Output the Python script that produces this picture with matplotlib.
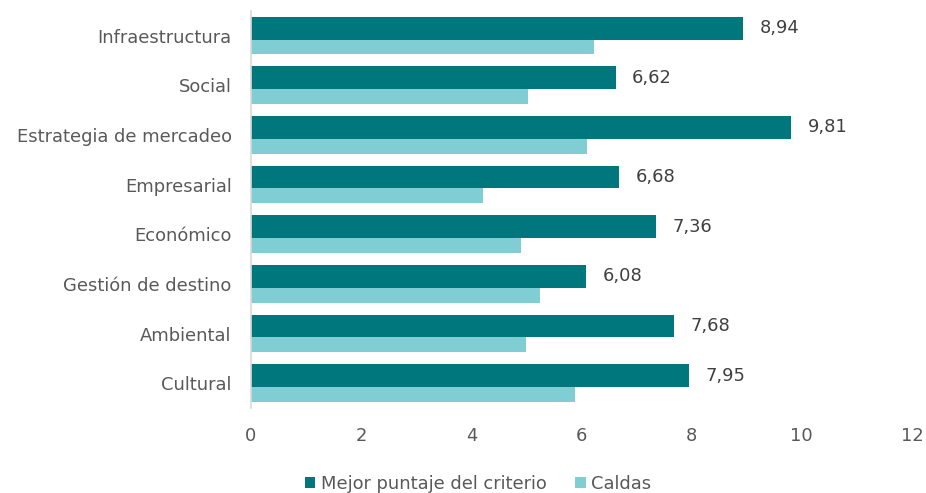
import matplotlib.pyplot as plt
import numpy as np

categories = ["Infraestructura", "Social", "Estrategia de mercadeo", "Empresarial",
              "Económico", "Gestión de destino", "Ambiental", "Cultural"]
mejor = [8.94, 6.62, 9.81, 6.68, 7.36, 6.08, 7.68, 7.95]
caldas = [6.23, 5.02, 6.10, 4.22, 4.90, 5.25, 4.99, 5.88]
series_names = ["Mejor puntaje del criterio", "Caldas"]
xticks = [0, 2, 4, 6, 8, 10, 12]

dark = "#00777D"
light = "#80CED4"
txt = "#595959"
fs = 12.9

plt.rcParams['font.family'] = ['DejaVu Sans']

fig = plt.figure(figsize=(9.26, 4.93), dpi=100)
ax = fig.add_axes([251/926, 1 - 408/493, (912-251)/926, (408-11)/493])

y = np.arange(len(categories))
h_dark = 0.458
h_light = 0.30
top = y - 0.383

b1 = ax.barh(top, mejor, height=h_dark, align='edge', color=dark,
             label=series_names[0])
b2 = ax.barh(top + h_dark, caldas, height=h_light, align='edge', color=light,
             label=series_names[1])

for yi, v in zip(top, mejor):
    ax.text(v + 0.3, yi + h_dark / 2, f"{v:.2f}".replace(".", ","),
            va='center', ha='left', fontsize=fs, color="#404040")

ax.set_xlim(0, 12)
ax.set_ylim(len(categories) - 0.5, -0.5)
ax.set_xticks(xticks)
ax.set_xticklabels([str(t) for t in xticks])
ax.set_yticks(y)
ax.set_yticklabels(categories)
ax.tick_params(axis='both', length=0, labelsize=fs, colors=txt)
ax.tick_params(axis='x', pad=14)
ax.tick_params(axis='y', pad=14)

for s in ['top', 'right', 'bottom']:
    ax.spines[s].set_visible(False)
ax.spines['left'].set_color("#D9D9D9")
ax.spines['left'].set_linewidth(1.2)

leg = fig.legend(handles=[b1, b2], loc='center', bbox_to_anchor=(478/926, 1 - 484/493),
                 ncol=2, frameon=False, fontsize=fs, handlelength=0.6, handleheight=0.6,
                 handletextpad=0.3, columnspacing=1.6)
for t in leg.get_texts():
    t.set_color(txt)

fig.savefig("out.png", dpi=100)
